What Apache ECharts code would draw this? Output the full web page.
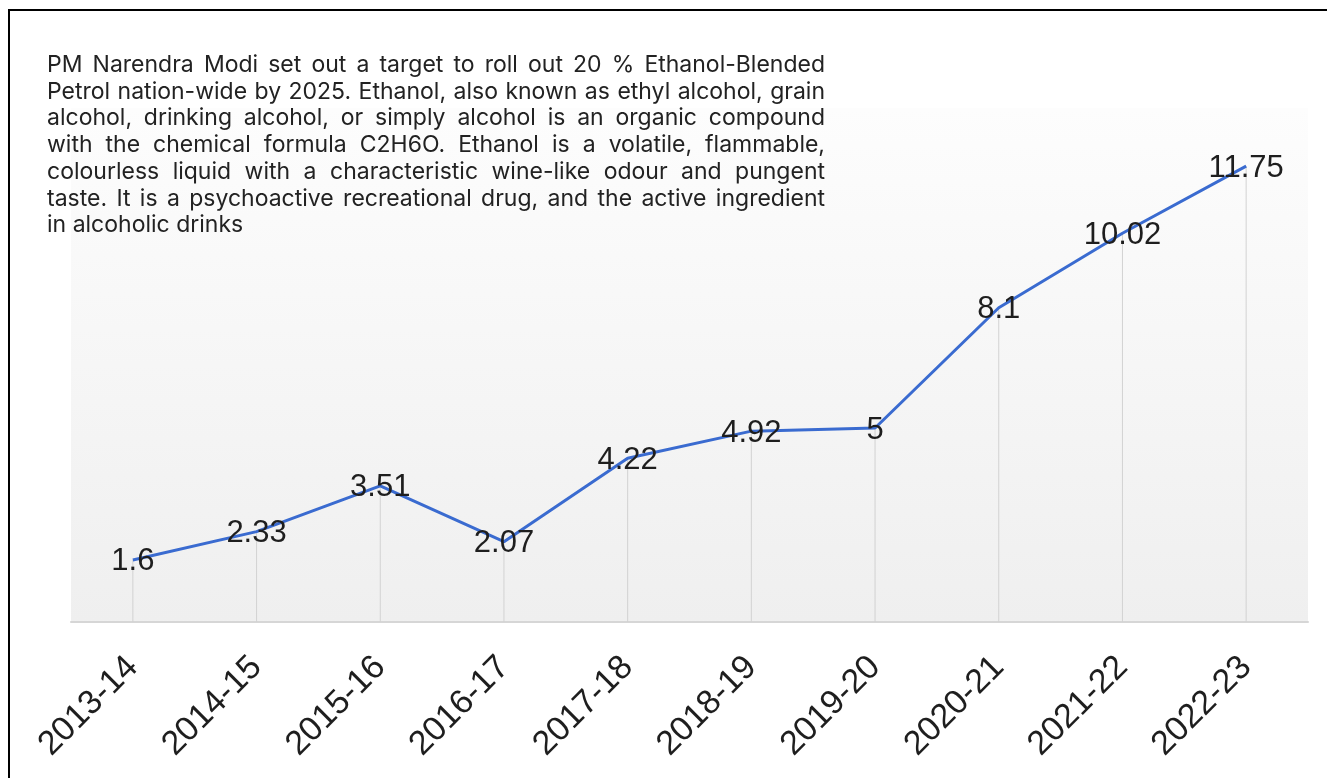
<!DOCTYPE html>
<html>
<head>
<meta charset="utf-8">
<script src="https://cdn.jsdelivr.net/npm/echarts@6/dist/echarts.min.js"></script>
<style>
  html, body { margin: 0; padding: 0; background: #fff; }
  #wrap { position: relative; width: 1327px; height: 778px; overflow: hidden; }
  #chart { position: absolute; left: 0; top: 0; width: 1327px; height: 778px; }
  #note {
    position: absolute; left: 47px; top: 51px; width: 778px;
    font-family: Inter, "Liberation Sans", Arial, sans-serif;
    font-size: 23px; line-height: 26.7px; color: #222;
    z-index: 2;
  }
  #note div { text-align: justify; text-align-last: justify; white-space: nowrap; }
  #note div.last { text-align-last: left; }
</style>
</head>
<body>
<div id="wrap">
  <div id="chart"></div>
  <div id="note"></div>
</div>
<script>
// Ethanol blending percentage by year
const years = ['2013-14', '2014-15', '2015-16', '2016-17', '2017-18',
               '2018-19', '2019-20', '2020-21', '2021-22', '2022-23'];
const blendPercent = [1.6, 2.33, 3.51, 2.07, 4.22, 4.92, 5, 8.1, 10.02, 11.75];

const noteLines = [
  'PM Narendra Modi set out a target to roll out 20 % Ethanol-Blended',
  'Petrol nation-wide by 2025. Ethanol, also known as ethyl alcohol, grain',
  'alcohol, drinking alcohol, or simply alcohol is an organic compound',
  'with the chemical formula C2H6O. Ethanol is a volatile, flammable,',
  'colourless liquid with a characteristic wine-like odour and pungent',
  'taste. It is a psychoactive recreational drug, and the active ingredient',
  'in alcoholic drinks'
];

const note = document.getElementById('note');
noteLines.forEach((t, i) => {
  const d = document.createElement('div');
  d.textContent = t;
  if (i === noteLines.length - 1) d.className = 'last';
  note.appendChild(d);
});

const chart = echarts.init(document.getElementById('chart'), null, { renderer: 'canvas' });
const font = '"Liberation Sans", Arial, sans-serif';

chart.setOption({
  animation: false,
  backgroundColor: '#fff',
  graphic: [{
    type: 'rect',
    shape: { x: 9, y: 10, width: 2000, height: 2000 },
    style: { fill: 'none', stroke: '#000', lineWidth: 2 },
    silent: true,
    z: 100
  }],
  grid: {
    left: 71, right: 19, top: 108, bottom: 156,
    show: true, borderWidth: 0,
    backgroundColor: new echarts.graphic.LinearGradient(0, 0, 0, 1, [
      { offset: 0, color: '#fdfdfd' },
      { offset: 1, color: '#efefef' }
    ])
  },
  xAxis: {
    type: 'category',
    data: years,
    boundaryGap: true,
    axisLine: { show: true, lineStyle: { color: '#d6d6d6', width: 2 } },
    axisTick: { show: false },
    splitLine: { show: false },
    axisLabel: {
      rotate: 45,
      margin: 40,
      fontFamily: font,
      fontSize: 34,
      color: '#1e1e1e'
    }
  },
  yAxis: {
    type: 'value',
    min: 0,
    max: 13.25,
    show: false,
    splitLine: { show: false }
  },
  series: [
    {
      // thin drop lines from each point to the axis
      type: 'bar',
      data: blendPercent,
      barWidth: 1,
      itemStyle: { color: '#d2d2d2' },
      silent: true,
      z: 1
    },
    {
      type: 'line',
      data: blendPercent,
      symbol: 'circle',
      symbolSize: 0.1,
      lineStyle: { color: '#3a6bd0', width: 3 },
      itemStyle: { color: '#3a6bd0' },
      label: {
        show: true,
        position: 'inside',
        offset: [0, 2],
        fontFamily: font,
        fontSize: 31,
        color: '#1e1e1e'
      },
      z: 3
    }
  ]
});
</script>
</body>
</html>
